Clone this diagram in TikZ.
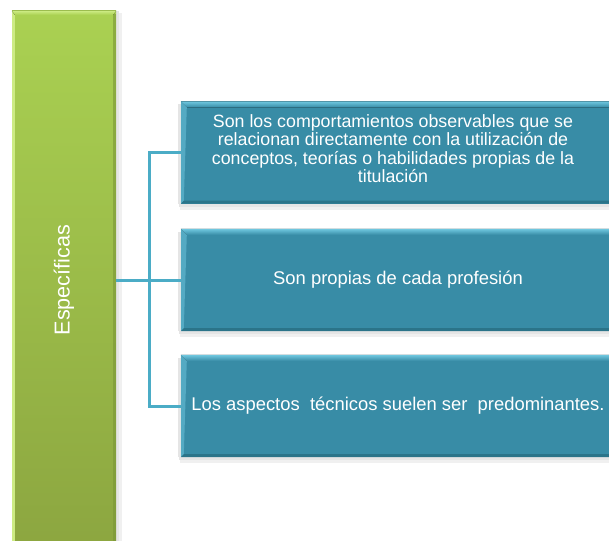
\documentclass[tikz,border=0pt]{standalone}
\usepackage{fontspec}
\setmainfont{Liberation Sans}
\usetikzlibrary{calc}
\definecolor{boxblue}{HTML}{388CA6}
\definecolor{bevlight}{HTML}{70C8E0}
\definecolor{bevdark}{HTML}{2B7489}
\definecolor{connblue}{HTML}{4BACC6}
\definecolor{gtop}{HTML}{AAD152}
\definecolor{gbot}{HTML}{8CA640}
\definecolor{glight}{HTML}{CDEB84}
\definecolor{gdark}{HTML}{7A9636}
\begin{document}
\begin{tikzpicture}[x=1pt,y=-1pt,
  barbox/.style={minimum width=104pt, minimum height=538pt, inner sep=0pt,
    top color=gtop, bottom color=gbot, draw=none},
  bartext/.style={rotate=90, text=white, inner sep=0pt,
    font=\fontsize{21.6}{24}\selectfont},
  infobox/.style={minimum width=434pt, minimum height=102pt, inner sep=0pt,
    fill=boxblue},
  infotext/.style={text=white, align=center, inner sep=0pt,
    font=\fontsize{18.4}{18.6}\selectfont},
  smalltext/.style={infotext, font=\fontsize{17.8}{18.5}\selectfont},
  conn/.style={draw=connblue, line width=3pt},
  shade1/.style={fill=black, opacity=0.10},
  shade2/.style={fill=black, opacity=0.06}]
\useasboundingbox (0,0) rectangle (609,540);
\clip (0,0) rectangle (609,540);

% green bar
\node[barbox] (bar) at (64,280) {};
\fill[shade1] (bar.north east) rectangle ($(bar.south east)+(3,0)$);
\fill[shade2] ($(bar.north east)+(3,2)$) rectangle ($(bar.south east)+(6,0)$);
\fill[glight] (bar.north west) rectangle ($(bar.south west)+(3,0)$);
\fill[gdark, opacity=0.6] ($(bar.north east)+(-3,3)$) rectangle (bar.south east);
\fill[top color=glight, bottom color=gtop] (bar.north west) -- (bar.north east)
  -- ($(bar.north east)+(-3,4)$) -- ($(bar.north west)+(3,4)$) -- cycle;
\node[bartext] (lbl) at (bar.center) {Específicas};

% boxes
\node[infobox] (b1) at (398,152.5) {};
\node[infobox] (b2) at (398,280) {};
\node[infobox] (b3) at (398,406) {};

\foreach \b in {b1,b2,b3}{
  \fill[shade1] ($(\b.south west)+(-2,0)$) rectangle ($(\b.south east)+(0,3)$);
  \fill[shade2] ($(\b.south west)+(-1,3)$) rectangle ($(\b.south east)+(0,6)$);
  \fill[shade1] ($(\b.north west)+(-3,3)$) rectangle ($(\b.south west)+(0,0)$);
  \fill[top color=bevlight, bottom color=boxblue] (\b.north west) -- (\b.north east)
    -- ($(\b.north east)+(-6,6)$) -- ($(\b.north west)+(6,6)$) -- cycle;
  \fill[bevlight, opacity=0.5] (\b.north west) -- ($(\b.north west)+(6,6)$)
    -- ($(\b.south west)+(3,-3)$) -- (\b.south west) -- cycle;
  \fill[bevdark] (\b.south west) -- (\b.south east)
    -- ($(\b.south east)+(-3,-3)$) -- ($(\b.south west)+(3,-3)$) -- cycle;
}

\node[smalltext] (t1) at ($(b1.center)+(-5,-4)$) {Son los comportamientos observables que se\\relacionan directamente con la utilización de\\conceptos, teorías o habilidades propias de la\\titulación};
\node[infotext] (t2) at (b2.center) {Son propias de cada profesión};
\node[infotext] (t3) at (b3.center) {Los aspectos~ técnicos suelen ser~ predominantes.};

% connectors
\coordinate (j) at (149,280);
\draw[conn] (bar.east) -- (b2.west);
\draw[conn] (b1.west) -| (j) |- (b3.west);
\end{tikzpicture}
\end{document}
